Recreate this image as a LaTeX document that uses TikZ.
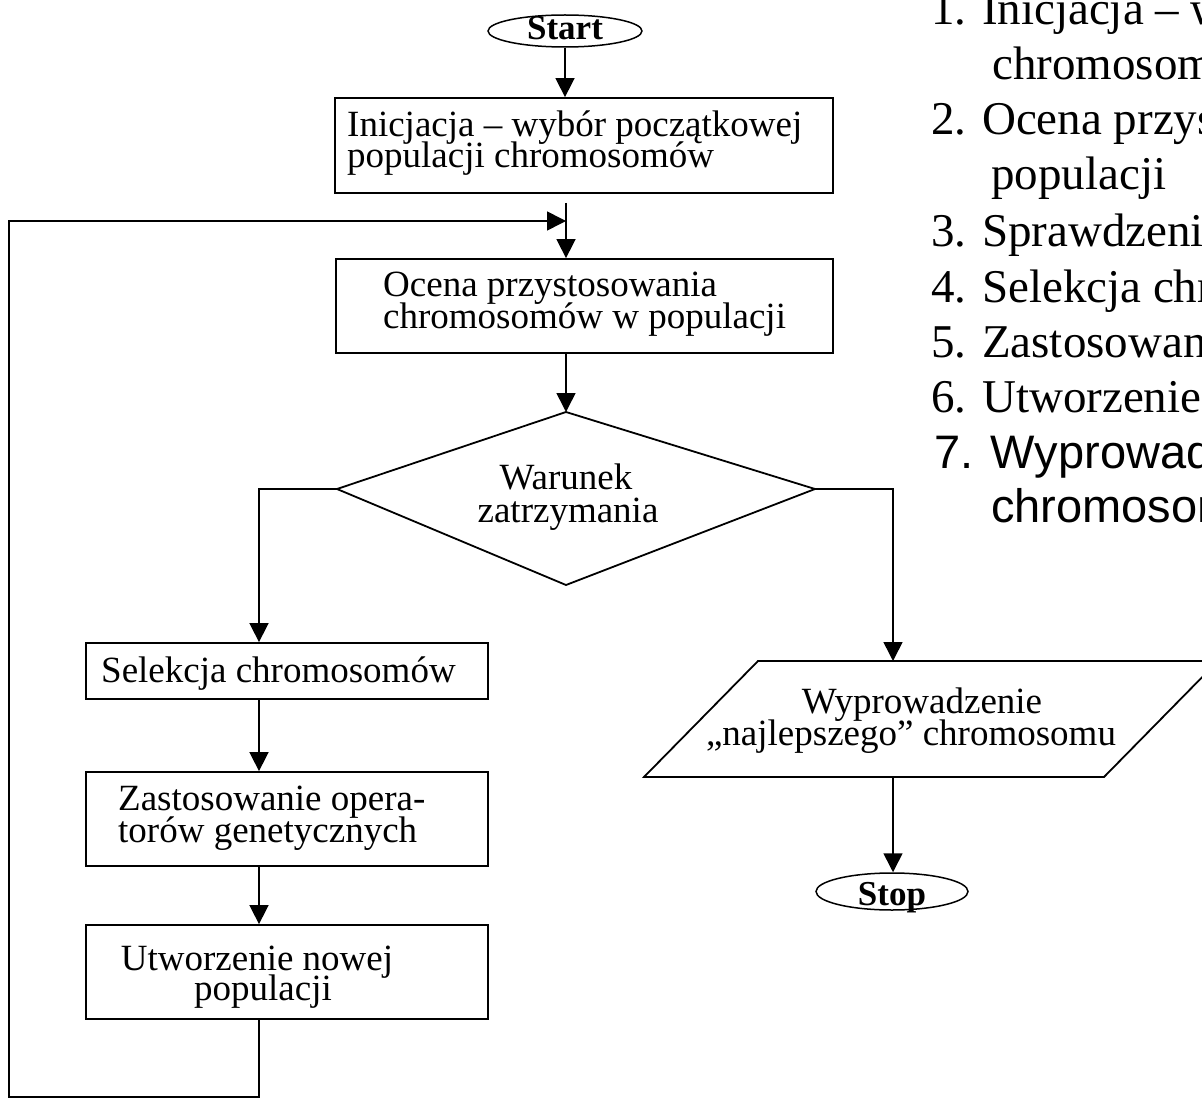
\documentclass[tikz,border=0pt]{standalone}
\usepackage{fontspec}
\setmainfont{Liberation Serif}
\newfontfamily\arialfont{Liberation Sans}
\usetikzlibrary{arrows.meta,shapes.geometric}

\begin{document}
\begin{tikzpicture}[x=1pt,y=-1pt,
  box/.style={draw, rectangle, line width=1.8pt, inner sep=0pt},
  term/.style={draw, ellipse, line width=1.5pt, inner sep=0pt},
  wire/.style={line width=1.6pt},
  flow/.style={wire, -{Triangle[length=19pt,width=19pt]}},
  lbl/.style={inner sep=0pt, font=\fontsize{37}{32}\selectfont},
  termlbl/.style={inner sep=0pt, font=\fontsize{35}{35}\selectfont\bfseries},
  listlbl/.style={inner sep=0pt, anchor=base west, font=\fontsize{47}{55}\selectfont},
  arlbl/.style={listlbl, font=\fontsize{47}{55}\arialfont}
]
\useasboundingbox (0,0) rectangle (1202,1099);
\clip (0,0) rectangle (1202,1099);

% terminals
\node[term, minimum width=154pt, minimum height=32pt] (start) at (565,31) {};
\node[termlbl, anchor=base] (startlbl) at (565,40) {Start};
\node[term, minimum width=152pt, minimum height=37pt] (stop) at (892,891.5) {};
\node[termlbl, anchor=base] (stoplbl) at (892,905) {Stop};

% process boxes
\node[box, minimum width=498pt, minimum height=95pt] (init)  at (584,145.5) {};
\node[box, minimum width=497pt, minimum height=94pt] (ocena) at (584.5,306) {};
\node[box, minimum width=402pt, minimum height=56pt] (selek) at (287,671) {};
\node[box, minimum width=402pt, minimum height=94pt] (zast)  at (287,819) {};
\node[box, minimum width=402pt, minimum height=94pt] (nowa)  at (287,972) {};

\node[lbl, anchor=base west] (init1) at (347,137) {Inicjacja – wybór początkowej};
\node[lbl, anchor=base west] (init2) at (347,168) {populacji chromosomów};
\node[lbl, anchor=base west] (ocena1) at (383,297) {Ocena przystosowania};
\node[lbl, anchor=base west] (ocena2) at (383,329) {chromosomów w populacji};
\node[lbl, anchor=base west] (selek1) at (101,682) {Selekcja chromosomów};
\node[lbl, anchor=base west] (zast1) at (118,810) {Zastosowanie opera-};
\node[lbl, anchor=base west] (zast2) at (118,842) {torów genetycznych};
\node[lbl, anchor=base] (nowa1) at (257,970) {Utworzenie nowej};
\node[lbl, anchor=base] (nowa2) at (263,1000) {populacji};

% decision
\coordinate (dtop) at (566,412);
\coordinate (dright) at (815,489);
\coordinate (dbot) at (566,585);
\coordinate (dleft) at (337,489);
\draw[line width=1.8pt, line join=miter] (dtop) -- (dright) -- (dbot) -- (dleft) -- cycle;
\node[lbl, anchor=base] (war1) at (566,489) {Warunek};
\node[lbl, anchor=base] (war2) at (568,522) {zatrzymania};

% output parallelogram
\coordinate (ptl) at (758,661);
\coordinate (ptr) at (1218,661);
\coordinate (pbr) at (1104,777);
\coordinate (pbl) at (644,777);
\draw[line width=1.8pt, line join=miter] (ptl) -- (ptr) -- (pbr) -- (pbl) -- cycle;
\node[lbl, anchor=base] (out1) at (922,713) {Wyprowadzenie};
\node[lbl, anchor=base] (out2) at (911,745) {„najlepszego” chromosomu};

% junctions
\coordinate (merge) at (566,221);
\coordinate (lcorner) at (259,489);
\coordinate (rcorner) at (893,489);
\coordinate (outtop) at (893,661);
\coordinate (outbot) at (893,777);
\coordinate (loopbl) at (9,1097);
\coordinate (looptl) at (9,221);

% connectors
\draw[flow] (start.south) -- (start.south |- init.north);
\draw[flow] ([yshift=-9pt]init.south -| merge) -- (merge |- ocena.north);
\draw[flow] (ocena.south -| dtop) -- (dtop);
\draw[flow] (dleft) -- (lcorner) -- (lcorner |- selek.north);
\draw[flow] (dright) -- (rcorner) -- (outtop);
\draw[flow] (selek.south -| lcorner) -- (lcorner |- zast.north);
\draw[flow] (zast.south -| lcorner) -- (lcorner |- nowa.north);
\draw[flow] (nowa.south -| lcorner) |- (loopbl) -- (looptl) -- (merge);
\draw[flow] (outbot) -- (outbot |- stop.north);

% step list
\node[listlbl] (st1a) at (931,25) {1. Inicjacja – wybór początkowej};
\node[listlbl] (st1b) at (992,80) {chromosomów};
\node[listlbl] (st2a) at (931,135) {2. Ocena przystosowania};
\node[listlbl] (st2b) at (991,190) {populacji};
\node[listlbl] (st3) at (931,247) {3. Sprawdzenie warunku};
\node[listlbl] (st4) at (931,302) {4. Selekcja chromosomów};
\node[listlbl] (st5) at (931,357) {5. Zastosowanie operatorów};
\node[listlbl] (st6) at (931,412) {6. Utworzenie nowej populacji};
\node[arlbl] (st7a) at (934,468) {7. Wyprowadzenie};
\node[arlbl] (st7b) at (991,522) {chromosomu};
\end{tikzpicture}
\end{document}
